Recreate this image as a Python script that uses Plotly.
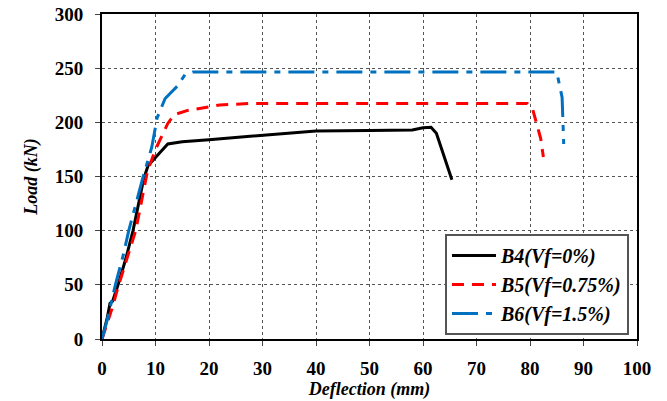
import plotly.graph_objects as go

b4_x = [0, 1, 1.5, 2, 3, 4.5, 5.8, 7, 7.8, 8.6, 10, 10.8, 12.3, 15, 20, 30, 40, 50, 58, 60, 61.5, 62.5, 63.5, 64.5, 65.4]
b4_y = [0, 20, 33, 35, 50, 75, 100, 130, 148, 160, 168, 172, 180, 182, 184, 188, 192, 192.5, 193, 195, 195.5, 190, 175, 160, 147]

b5_x = [0, 2, 3, 5, 6.3, 7.5, 8.5, 10, 11.2, 12.3, 13.5, 16, 22, 28, 40, 60, 79.5, 80.5, 82, 82.5]
b5_y = [0, 30, 48, 80, 100, 130, 155, 175, 188, 199, 207, 211, 216, 217.5, 217.5, 217.5, 217.5, 212, 185, 168]

b6_x = [0, 1, 2.5, 4, 5, 6.5, 7.7, 9.3, 10.3, 11.8, 14.2, 15.5, 17, 85, 86, 86.3]
b6_y = [0, 18, 50, 78, 100, 128, 150, 177, 204, 222, 234, 244, 246.5, 246.5, 223, 180]

names = ["B4(Vf=0%)", "B5(Vf=0.75%)", "B6(Vf=1.5%)"]
x_ticks = list(range(0, 101, 10))
y_ticks = list(range(0, 301, 50))

SERIF = "Liberation Serif"

fig = go.Figure()
fig.add_trace(go.Scatter(x=b4_x, y=b4_y, mode="lines", name=names[0],
                         line=dict(color="black", width=3)))
fig.add_trace(go.Scatter(x=b5_x, y=b5_y, mode="lines", name=names[1],
                         line=dict(color="#ff0000", width=3, dash="12px,8px")))
fig.add_trace(go.Scatter(x=b6_x, y=b6_y, mode="lines", name=names[2],
                         line=dict(color="#0070c0", width=3, dash="26px,8px,6px,8px")))

axis_common = dict(
    showline=True, linecolor="black", linewidth=2, mirror=True,
    showgrid=True, gridcolor="#555555", griddash="dot", gridwidth=1,
    ticks="outside", ticklen=5, tickcolor="#444444",
    tickfont=dict(family=SERIF, size=19, color="black", weight="bold"),
    zeroline=False, automargin=False, ticklabeloverflow="allow",
)

fig.update_layout(
    width=667, height=401,
    margin=dict(l=102, r=30, t=14, b=62),
    paper_bgcolor="white", plot_bgcolor="white",
    xaxis=dict(range=[0, 100], tickvals=x_ticks, ticklabelstandoff=6, **axis_common,
               title=dict(text="Deflection (mm)", standoff=2,
                          font=dict(family=SERIF, size=18, color="black", weight="bold", style="italic"))),
    yaxis=dict(range=[0, 300], tickvals=y_ticks, ticklabelstandoff=8, **axis_common,
               title=dict(text="Load (kN)", standoff=12,
                          font=dict(family=SERIF, size=18, color="black", weight="bold", style="italic"))),
    legend=dict(x=0.985, y=0.323, xanchor="right", yanchor="top",
                bgcolor="white", bordercolor="#555555", borderwidth=2,
                font=dict(family=SERIF, size=20, color="black", weight="bold", style="italic"),
                itemwidth=44, tracegroupgap=8),
    showlegend=True,
)

fig.write_html("out.html", config={"displayModeBar": False},
               post_script="document.body.style.margin='0';")
